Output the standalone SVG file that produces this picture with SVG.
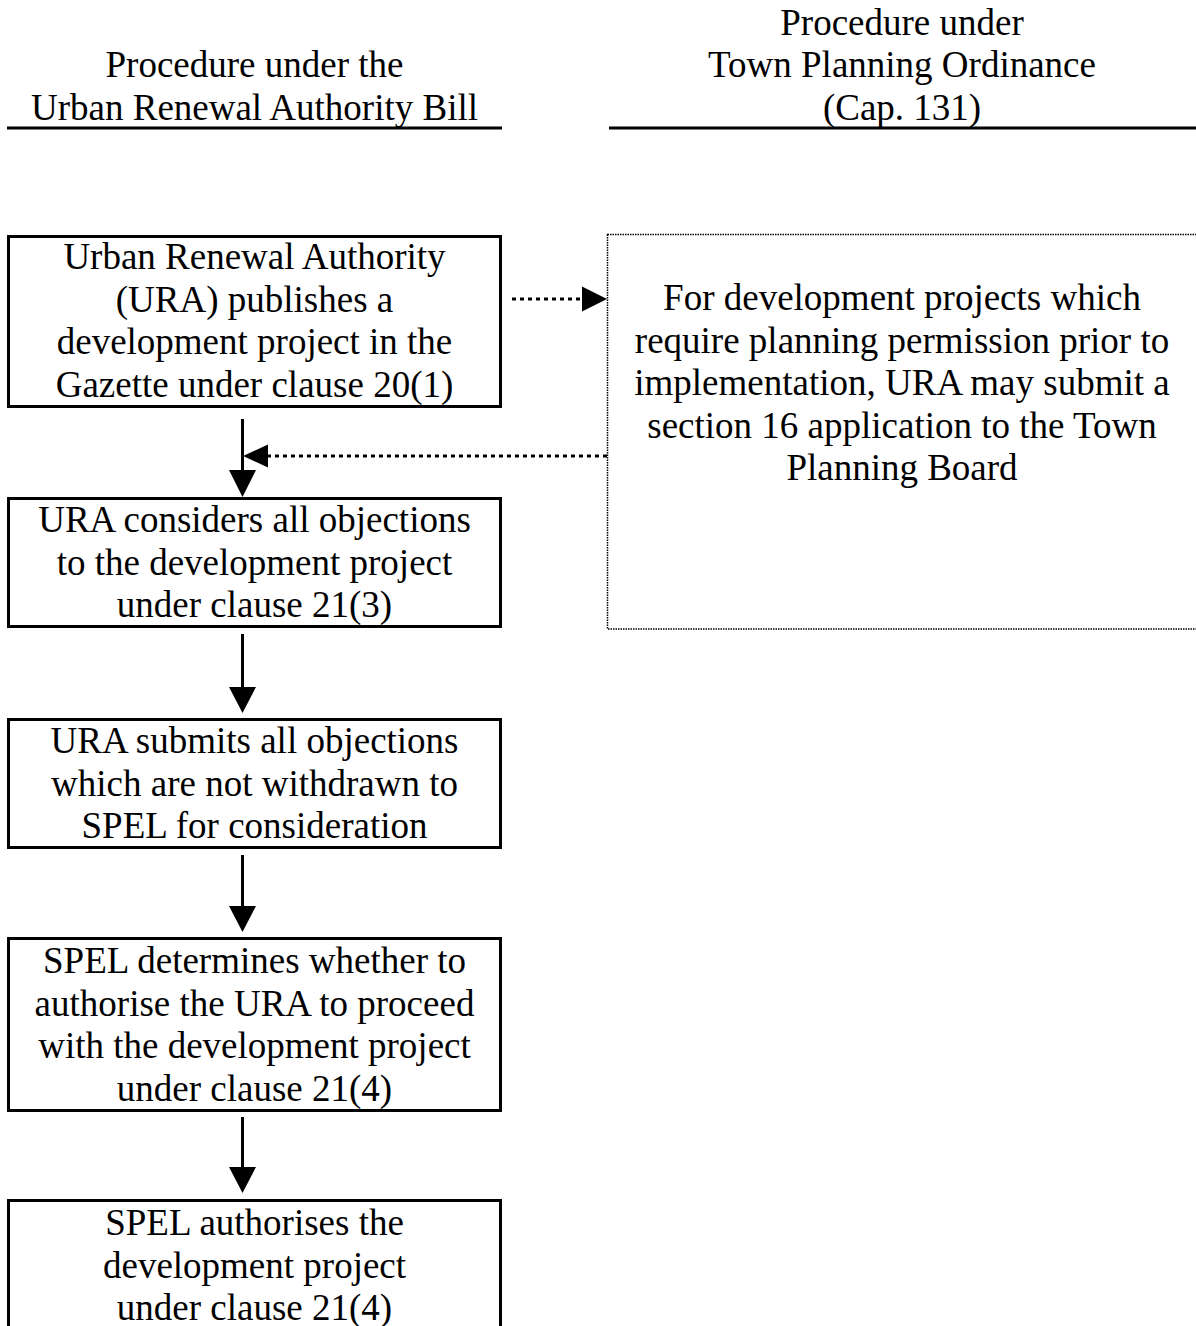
<svg xmlns="http://www.w3.org/2000/svg" width="1196" height="1326" viewBox="0 0 1196 1326">
<style>
text{font-family:"Liberation Serif","Times New Roman",serif;font-size:37px;fill:#000;text-anchor:middle}
.box{fill:#fff;stroke:#000;stroke-width:3}
.dbox{fill:none;stroke:#000;stroke-width:1.5;stroke-dasharray:1.5 1}
.rule{stroke:#000;stroke-width:3}
.flow{stroke:#000;stroke-width:3;fill:none}
.dot{stroke:#000;stroke-width:3;fill:none;stroke-dasharray:4 4}
.head{fill:#000}
</style>
<g id="header-left">
<text x="254.5" y="77">Procedure under the</text>
<text x="254.5" y="119.5">Urban Renewal Authority Bill</text>
<line class="rule" x1="7" y1="128" x2="502" y2="128"/>
</g>
<g id="header-right">
<text x="902" y="34.5">Procedure under</text>
<text x="902" y="77">Town Planning Ordinance</text>
<text x="902" y="119.5">(Cap. 131)</text>
<line class="rule" x1="609" y1="128" x2="1196" y2="128"/>
</g>
<g id="node-publish">
<rect class="box" x="8.5" y="236.5" width="492" height="170"/>
<text x="254.5" y="269">Urban Renewal Authority</text>
<text x="254.5" y="311.5">(URA) publishes a</text>
<text x="254.5" y="354">development project in the</text>
<text x="254.5" y="396.5">Gazette under clause 20(1)</text>
</g>
<g id="node-considers">
<rect class="box" x="8.5" y="498.5" width="492" height="128"/>
<text x="254.5" y="532">URA considers all objections</text>
<text x="254.5" y="574.5">to the development project</text>
<text x="254.5" y="617">under clause 21(3)</text>
</g>
<g id="node-submits">
<rect class="box" x="8.5" y="719.5" width="492" height="128"/>
<text x="254.5" y="753">URA submits all objections</text>
<text x="254.5" y="795.5">which are not withdrawn to</text>
<text x="254.5" y="838">SPEL for consideration</text>
</g>
<g id="node-determines">
<rect class="box" x="8.5" y="938.5" width="492" height="172"/>
<text x="254.5" y="973">SPEL determines whether to</text>
<text x="254.5" y="1015.5">authorise the URA to proceed</text>
<text x="254.5" y="1058">with the development project</text>
<text x="254.5" y="1100.5">under clause 21(4)</text>
</g>
<g id="node-authorises">
<rect class="box" x="8.5" y="1200.5" width="492" height="200"/>
<text x="254.5" y="1235">SPEL authorises the</text>
<text x="254.5" y="1277.5">development project</text>
<text x="254.5" y="1320">under clause 21(4)</text>
</g>
<g id="node-tpo">
<rect class="dbox" x="607.5" y="234.5" width="600" height="394.5"/>
<text x="902" y="310">For development projects which</text>
<text x="902" y="352.5">require planning permission prior to</text>
<text x="902" y="395">implementation, URA may submit a</text>
<text x="902" y="437.5">section 16 application to the Town</text>
<text x="902" y="480">Planning Board</text>
</g>
<g id="connectors">
<line class="flow" x1="242.5" y1="419" x2="242.5" y2="472"/>
<polygon class="head" points="229,470 256,470 242.5,497"/>
<line class="flow" x1="242.5" y1="634" x2="242.5" y2="690"/>
<polygon class="head" points="229,687 256,687 242.5,713"/>
<line class="flow" x1="242.5" y1="855" x2="242.5" y2="909"/>
<polygon class="head" points="229,906 256,906 242.5,932"/>
<line class="flow" x1="242.5" y1="1117" x2="242.5" y2="1170"/>
<polygon class="head" points="229,1167 256,1167 242.5,1193"/>
<line class="dot" x1="512" y1="299" x2="583" y2="299"/>
<polygon class="head" points="582,286.5 607,299 582,311.5"/>
<line class="dot" x1="607" y1="456" x2="268" y2="456"/>
<polygon class="head" points="268,444.5 243,456 268,467.5"/>
</g>
</svg>
